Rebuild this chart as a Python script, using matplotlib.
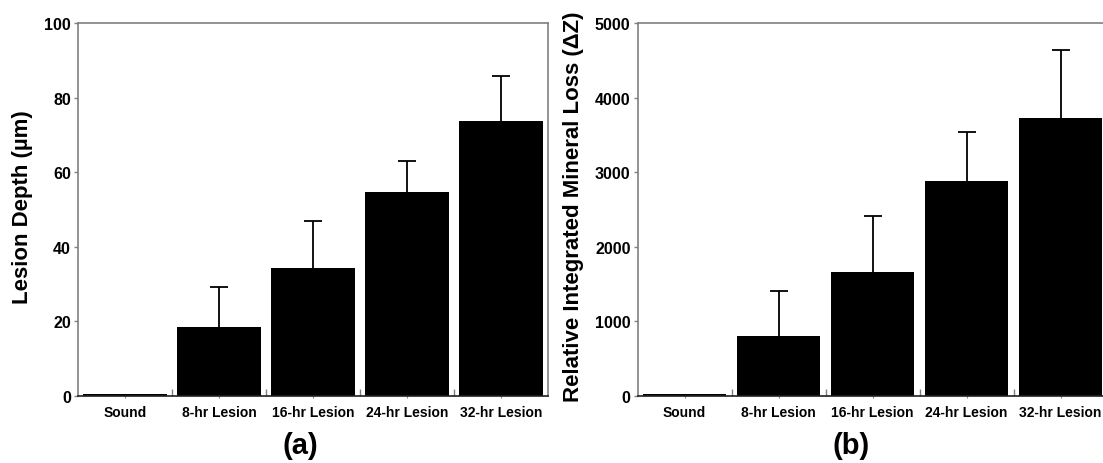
import matplotlib
matplotlib.use("Agg")
import matplotlib.pyplot as plt
import numpy as np
from matplotlib.ticker import FixedLocator

categories = ["Sound", "8-hr Lesion", "16-hr Lesion", "24-hr Lesion", "32-hr Lesion"]
depth_mean = [0.5, 18.5, 34.3, 54.6, 73.7]
depth_err = [0.0, 10.6, 12.7, 8.3, 12.0]
loss_mean = [25, 805, 1660, 2886, 3732]
loss_err = [0, 596, 756, 658, 912]
panel_labels = ["(a)", "(b)"]
ylabels = ["Lesion Depth (\u00b5m)", "Relative Integrated Mineral Loss (\u0394Z)"]
yticks_a = [0, 20, 40, 60, 80, 100]
yticks_b = [0, 1000, 2000, 3000, 4000, 5000]

plt.rcParams['font.family'] = ['Liberation Sans', 'DejaVu Sans']

W, H = 1103, 464
fig = plt.figure(figsize=(W / 100, H / 100), dpi=100)

ax_w = 470 / W
ax_b = 1 - 397 / H
ax_h = (397 - 24) / H
ax1 = fig.add_axes([78 / W, ax_b, ax_w, ax_h])
ax2 = fig.add_axes([637.5 / W, ax_b, ax_w, ax_h])

gray = "#808080"

def draw(ax, means, errs, yticks, ylabel, labx):
    x = np.arange(len(categories))
    means = np.asarray(means, dtype=float)
    errs = np.asarray(errs, dtype=float)
    ax.bar(x, means, width=0.885, color="black", edgecolor="none", zorder=2)
    has = errs > 0
    # upper-only error bars: vertical stem plus a top cap
    ax.errorbar(x[has], means[has] + errs[has] / 2, yerr=errs[has] / 2, fmt="none",
                ecolor="black", elinewidth=1.3, capsize=0, zorder=3)
    ax.plot(x[has], means[has] + errs[has], linestyle="none", marker="_",
            markersize=13, markeredgewidth=1.3, color="black", zorder=3)
    ax.set_xlim(-0.5, len(categories) - 0.5)
    ax.set_ylim(yticks[0], yticks[-1])
    ax.set_yticks(yticks)
    ax.set_yticklabels([str(t) for t in yticks], fontsize=11.5, fontweight="bold")
    ax.set_xticks(x)
    ax.set_xticklabels(categories, fontsize=10, fontweight="bold")
    ax.xaxis.set_minor_locator(FixedLocator(np.arange(0.5, len(categories) - 1, 1.0)))
    ax.tick_params(axis="x", which="major", direction="out", length=1.5, color=gray, pad=5)
    ax.tick_params(axis="x", which="minor", direction="in", length=5, color=gray, width=1)
    ax.tick_params(axis="y", which="major", direction="out", length=3, color=gray, width=1, pad=2)
    for s in ["top", "left", "right"]:
        ax.spines[s].set_color(gray)
        ax.spines[s].set_linewidth(1.2)
    ax.spines["bottom"].set_color("#202020")
    ax.spines["bottom"].set_linewidth(1.2)
    ax.set_ylabel(ylabel, fontsize=16, fontweight="bold")
    ax.yaxis.set_label_coords(labx, 0.51)

draw(ax1, depth_mean, depth_err, yticks_a, ylabels[0], -0.096)
draw(ax2, loss_mean, loss_err, yticks_b, ylabels[1], -0.114)

fig.text(300 / W, 1 - 446 / H, panel_labels[0], fontsize=21, fontweight="bold",
         ha="center", va="center")
fig.text(851 / W, 1 - 446 / H, panel_labels[1], fontsize=21, fontweight="bold",
         ha="center", va="center")

fig.savefig("out.png", dpi=100)
